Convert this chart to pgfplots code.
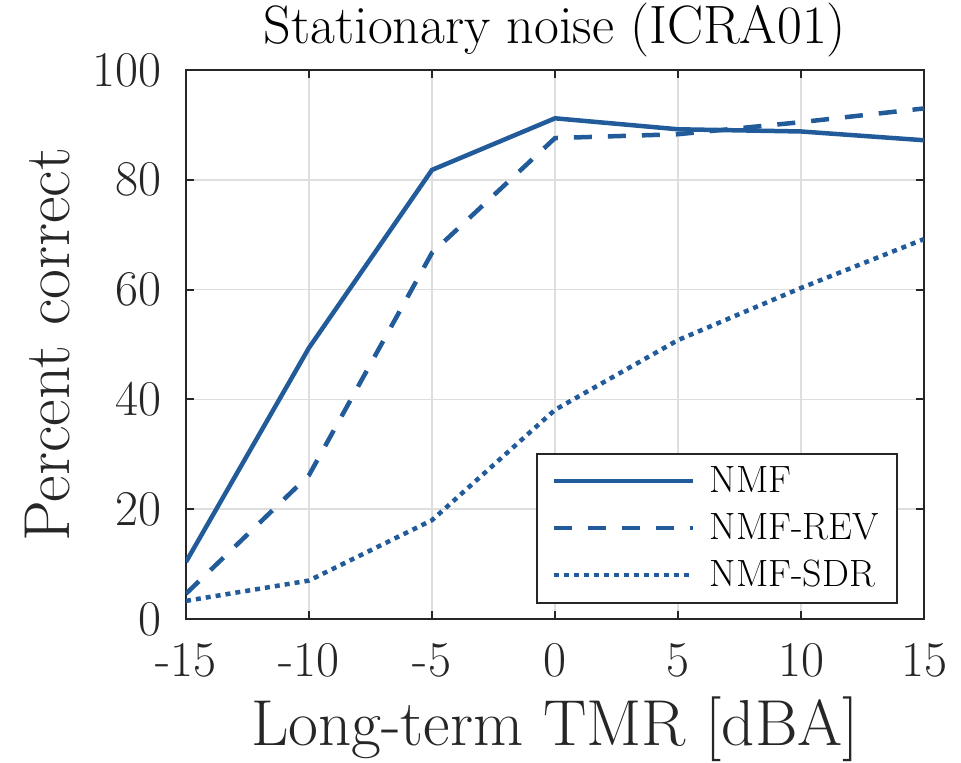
\documentclass[border=0pt]{standalone}
\usepackage{fontspec}
\usepackage{pgfplots}
\pgfplotsset{compat=1.18}

\definecolor{nmfblue}{RGB}{34,91,153}
\definecolor{axgray}{RGB}{38,38,38}
\definecolor{gridgray}{RGB}{222,222,222}

\begin{document}
\begin{tikzpicture}
\begin{axis}[
    scale only axis,
    width=369pt, height=274.5pt,
    xmin=-15, xmax=15, ymin=0, ymax=100,
    xtick={-15,-10,...,15}, xticklabels={-15,-10,-5,0,5,10,15},
    ytick={0,20,...,100}, yticklabels={0,20,40,60,80,{100\hspace{-5.5pt}}},
    tick pos=both, tick align=inside, major tick length=4pt,
    axis line style={axgray, line width=1pt},
    every tick/.style={axgray, line width=1pt},
    grid=major, major grid style={gridgray, line width=0.75pt},
    tick label style={font=\fontsize{25}{30}\selectfont, text=axgray},
    xticklabel style={anchor=base, inner sep=0pt, yshift=-28.5pt},
    yticklabel style={anchor=east, inner sep=0pt, xshift=-12pt},
    title={Stationary noise (ICRA01)},
    every axis title/.style={font=\fontsize{27}{32}\selectfont, text=black, at={(axis description cs:0.5,1)}, anchor=base, yshift=13pt},
    xlabel={Long-term TMR [dBA]},
    xlabel style={font=\fontsize{32.5}{38}\selectfont, text=axgray, at={(axis description cs:0.5,-0.2313)}, anchor=base},
    ylabel={Percent correct},
    ylabel style={font=\fontsize{32.5}{38}\selectfont, text=axgray, at={(axis description cs:-0.187,0.5)}, anchor=center},
    legend style={at={(axis description cs:1,0)}, anchor=south east, xshift=-13pt, yshift=7.5pt,
        draw=axgray, line width=1pt, font=\fontsize{19}{23}\selectfont,
        inner xsep=7pt, inner ysep=4.5pt, column sep=5.5pt, row sep=5pt},
    legend cell align=left,
    legend image code/.code={\draw[#1] (0pt,0pt) -- (69.5pt,0pt);},
    every axis plot/.append style={nmfblue, line width=2.25pt},
]
\addplot[solid] coordinates {(-15,10.4) (-10,49.4) (-5,81.8) (0,91.2) (5,89.2) (10,88.8) (15,87.2)};
\addplot[dash pattern=on 9pt off 8pt] coordinates {(-15,4.6) (-10,26.2) (-5,66.7) (0,87.6) (5,88.3) (10,90.5) (15,93.0)};
\addplot[dash pattern=on 2.5pt off 2.5pt] coordinates {(-15,3.3) (-10,7.0) (-5,18.0) (0,38.1) (5,50.8) (10,60.3) (15,69.2)};
\legend{NMF, NMF-REV, NMF-SDR}
\end{axis}
\pgfresetboundingbox
\path ([shift={(-93pt,-72pt)}]current axis.south west) rectangle ([shift={(18.5pt,35pt)}]current axis.north east);
\end{tikzpicture}
\end{document}
